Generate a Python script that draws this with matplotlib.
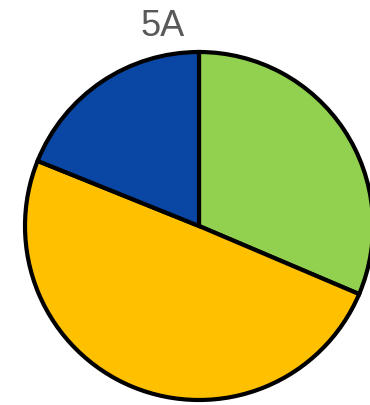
import matplotlib.pyplot as plt

# slice shares, clockwise from 12 o'clock
labels = ['Green', 'Yellow', 'Blue']
values = [31.4, 49.7, 18.9]
colors = ['#92D050', '#FFC000', '#0A47A4']

W, H = 370, 406
fig = plt.figure(figsize=(W / 100, H / 100), dpi=100)

# square axes holding the pie, in pixel terms
cx, cy, r = 199, 227, 174
ax = fig.add_axes([(cx - r) / W, (H - cy - r) / H, 2 * r / W, 2 * r / H])
wedges, _ = ax.pie(values, colors=colors, startangle=90, counterclock=False,
                   wedgeprops=dict(edgecolor='black', linewidth=3))
for w in wedges:
    w.set_clip_on(False)
ax.set_xlim(-1, 1)
ax.set_ylim(-1, 1)
ax.set_aspect('equal')
ax.axis('off')

fig.text(163 / W, 1 - 27 / H, '5A', ha='center', va='center',
         fontsize=26, color='#595959', family='Liberation Sans')

fig.savefig('out.png', dpi=100)
